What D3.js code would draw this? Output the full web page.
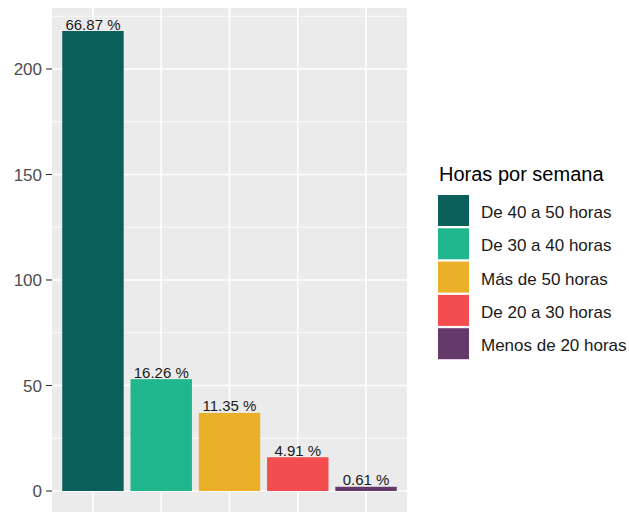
<!DOCTYPE html>
<html>
<head>
<meta charset="utf-8">
<script src="https://cdn.jsdelivr.net/npm/d3@7"></script>
<style>
  body { margin: 0; background: #fff; }
  svg { display: block; font-family: "Liberation Sans", Arial, sans-serif; }
</style>
</head>
<body>
<div id="chart"></div>
<script>
// data
const categories = ['De 40 a 50 horas', 'De 30 a 40 horas', 'Más de 50 horas', 'De 20 a 30 horas', 'Menos de 20 horas'];
const counts = [218, 53, 37, 16, 2];
const colors = ['#0a5f5a', '#20b68e', '#ebb02a', '#f34d4f', '#653a6b'];
const yTicks = [0, 50, 100, 150, 200];
const yMinor = [25, 75, 125, 175, 225];

const width = 629, height = 512;
const panel = { left: 52, right: 407, top: 8, bottom: 514 };

const svg = d3.select('#chart').append('svg')
    .attr('width', width)
    .attr('height', height);

const total = d3.sum(counts);
const data = categories.map((c, i) => ({ cat: c, n: counts[i], color: colors[i], pct: counts[i] / total * 100 }));

// scales (ggplot style 5% expansion)
const maxN = d3.max(counts);
const y = d3.scaleLinear()
    .domain([-0.05 * maxN, maxN * 1.05])
    .range([panel.bottom, panel.top]);

const x = d3.scaleBand()
    .domain(categories)
    .range([panel.left, panel.right])
    .paddingInner(0.1)
    .paddingOuter(0.15);

// panel background
svg.append('rect')
    .attr('x', panel.left).attr('y', panel.top)
    .attr('width', panel.right - panel.left)
    .attr('height', panel.bottom - panel.top)
    .attr('fill', '#ebebeb');

// grid
svg.selectAll('.minor').data(yMinor).enter().append('line')
    .attr('x1', panel.left).attr('x2', panel.right)
    .attr('y1', d => y(d)).attr('y2', d => y(d))
    .attr('stroke', '#fff').attr('stroke-width', 0.8);

svg.selectAll('.major').data(yTicks).enter().append('line')
    .attr('x1', panel.left).attr('x2', panel.right)
    .attr('y1', d => y(d)).attr('y2', d => y(d))
    .attr('stroke', '#fff').attr('stroke-width', 1.6);

svg.selectAll('.vgrid').data(categories).enter().append('line')
    .attr('x1', d => x(d) + x.bandwidth() / 2).attr('x2', d => x(d) + x.bandwidth() / 2)
    .attr('y1', panel.top).attr('y2', panel.bottom)
    .attr('stroke', '#fff').attr('stroke-width', 1.6);

// bars
svg.selectAll('.bar').data(data).enter().append('rect')
    .attr('x', d => x(d.cat))
    .attr('y', d => y(d.n))
    .attr('width', x.bandwidth())
    .attr('height', d => y(0) - y(d.n))
    .attr('fill', d => d.color);

// labels on bars
svg.selectAll('.lbl').data(data).enter().append('text')
    .attr('x', d => x(d.cat) + x.bandwidth() / 2)
    .attr('y', d => y(d.n) - 1.5)
    .attr('text-anchor', 'middle')
    .attr('font-size', 15)
    .attr('fill', '#1a1a1a')
    .text(d => d.pct.toFixed(2) + ' %');

// y axis
const yAxis = svg.append('g');
yAxis.selectAll('line').data(yTicks).enter().append('line')
    .attr('x1', panel.left - 6).attr('x2', panel.left)
    .attr('y1', d => y(d)).attr('y2', d => y(d))
    .attr('stroke', '#333').attr('stroke-width', 1.1);
yAxis.selectAll('text').data(yTicks).enter().append('text')
    .attr('x', panel.left - 10)
    .attr('y', d => y(d))
    .attr('dy', '0.36em')
    .attr('text-anchor', 'end')
    .attr('font-size', 17)
    .attr('fill', '#4d4d4d')
    .text(d => d);

// legend
const legend = svg.append('g').attr('transform', 'translate(438,0)');
legend.append('text')
    .attr('x', 1).attr('y', 181)
    .attr('font-size', 20)
    .attr('fill', '#000')
    .text('Horas por semana');

const keyPitch = 33.3, keyTop = 194;
const keys = legend.selectAll('.key').data(data).enter().append('g')
    .attr('transform', (d, i) => `translate(0,${keyTop + i * keyPitch})`);
keys.append('rect')
    .attr('x', 0).attr('y', 1)
    .attr('width', 31).attr('height', 31)
    .attr('fill', d => d.color);
keys.append('text')
    .attr('x', 43).attr('y', 16.5)
    .attr('dy', '0.45em')
    .attr('font-size', 17)
    .attr('fill', '#1a1a1a')
    .text(d => d.cat);
</script>
</body>
</html>
